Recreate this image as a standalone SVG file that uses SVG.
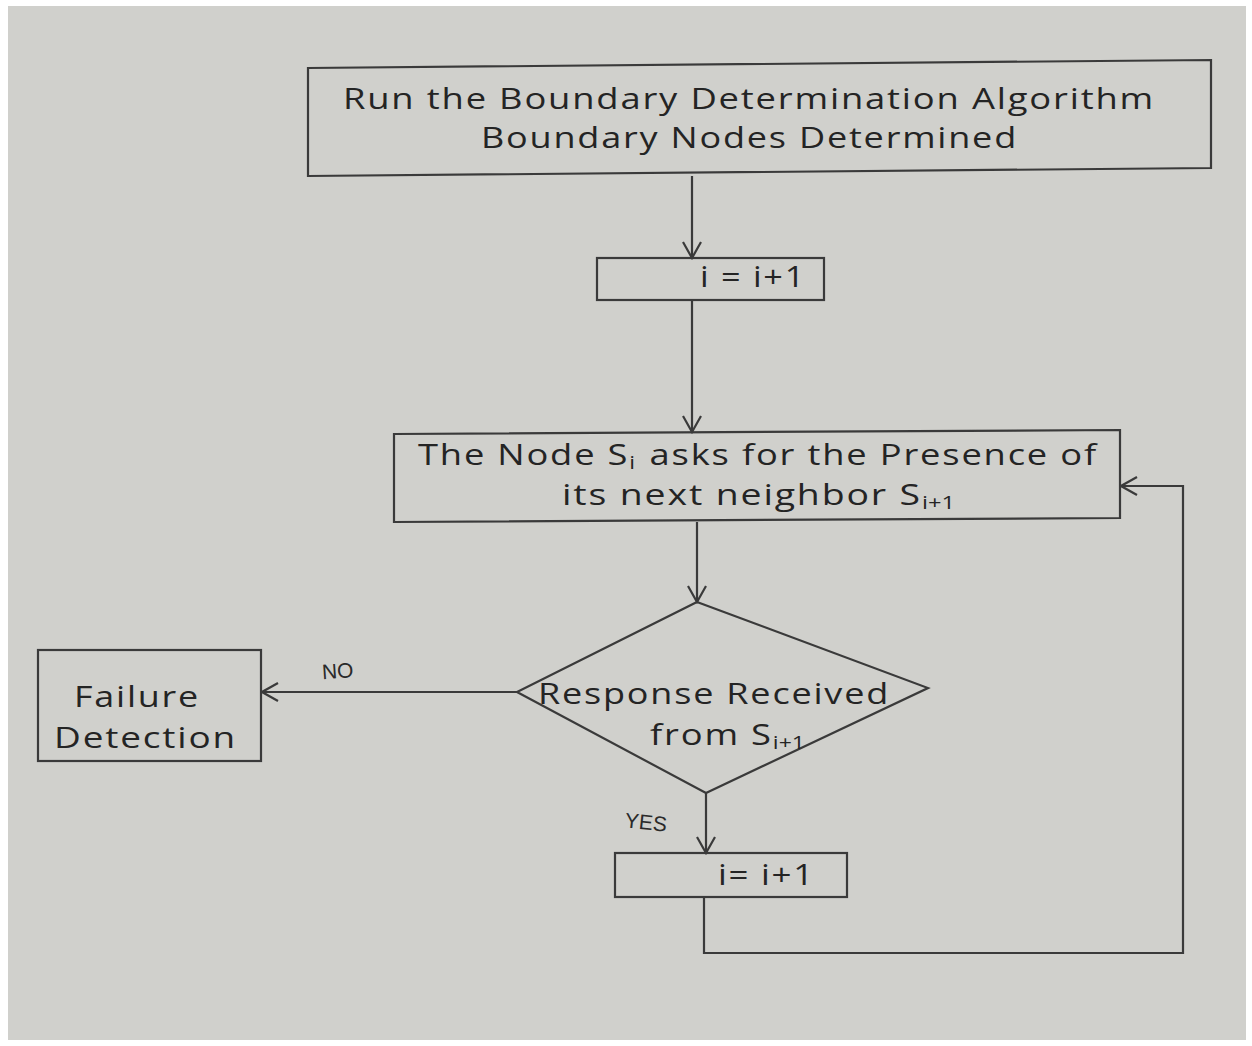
<svg xmlns="http://www.w3.org/2000/svg" width="1252" height="1046" viewBox="0 0 1252 1046">
<defs>
<style>
.bx{fill:none;stroke:#3a3a3a;stroke-width:2.2}
.ln{fill:none;stroke:#3a3a3a;stroke-width:2.2}
.t{font-family:"Open Sans","Liberation Sans",sans-serif;font-size:30px;fill:#242424;letter-spacing:1.5px}
.s{font-size:19px;letter-spacing:0}
.lb{font-family:"Liberation Sans",sans-serif;font-size:21px;fill:#2a2a2a}
</style>
<marker id="ah" viewBox="0 0 20 20" refX="18" refY="10" markerWidth="20" markerHeight="20" markerUnits="userSpaceOnUse" orient="auto">
<path d="M2,1 L18,10 L2,19" fill="none" stroke="#3a3a3a" stroke-width="2.2"/>
</marker>
</defs>
<rect x="0" y="0" width="1252" height="1046" fill="#ffffff"/>
<rect x="8" y="6" width="1238" height="1034" fill="#d0d0cc"/>
<g id="connectors">
<line class="ln" x1="692" y1="176" x2="692" y2="258" marker-end="url(#ah)"/>
<line class="ln" x1="692" y1="300" x2="692" y2="432" marker-end="url(#ah)"/>
<line class="ln" x1="697" y1="522" x2="697" y2="602" marker-end="url(#ah)"/>
<line class="ln" x1="517" y1="692" x2="262" y2="692" marker-end="url(#ah)"/>
<line class="ln" x1="706" y1="793" x2="706" y2="853" marker-end="url(#ah)"/>
<polyline class="ln" points="704,897 704,953 1183,953 1183,486 1121,486" marker-end="url(#ah)"/>
<text class="lb" x="322" y="678" transform="rotate(-4 340 672)">NO</text>
<text class="lb" x="625" y="830" transform="rotate(6 650 822)">YES</text>
</g>
<g id="node-start">
<polygon class="bx" points="308,68 1211,60 1211,168 308,176"/>
<text class="t" x="343" y="109" textLength="812" lengthAdjust="spacingAndGlyphs">Run the Boundary Determination Algorithm</text>
<text class="t" x="481" y="148" textLength="537" lengthAdjust="spacingAndGlyphs">Boundary Nodes Determined</text>
</g>
<g id="node-inc1">
<rect class="bx" x="597" y="258" width="227" height="42"/>
<text class="t" x="700" y="287" textLength="106" lengthAdjust="spacingAndGlyphs">i = i+1</text>
</g>
<g id="node-ask">
<polygon class="bx" points="394,434 1120,430 1120,518 394,522"/>
<text class="t" x="418" y="465" textLength="680" lengthAdjust="spacingAndGlyphs">The Node S<tspan class="s" dy="4">i</tspan><tspan dy="-4" dx="12">asks for the Presence of</tspan></text>
<text class="t" x="562" y="505" textLength="393" lengthAdjust="spacingAndGlyphs">its next neighbor  S<tspan class="s" dy="4">i+1</tspan></text>
</g>
<g id="node-decision">
<polygon class="bx" points="697,602 928,688 706,793 517,692"/>
<text class="t" x="538" y="704" textLength="352" lengthAdjust="spacingAndGlyphs">Response Received</text>
<text class="t" x="650" y="745" textLength="155" lengthAdjust="spacingAndGlyphs">from S<tspan class="s" dy="4">i+1</tspan></text>
</g>
<g id="node-failure">
<rect class="bx" x="38" y="650" width="223" height="111"/>
<text class="t" x="74" y="707" textLength="126" lengthAdjust="spacingAndGlyphs">Failure</text>
<text class="t" x="54" y="748" textLength="183" lengthAdjust="spacingAndGlyphs">Detection</text>
</g>
<g id="node-inc2">
<rect class="bx" x="615" y="853" width="232" height="44"/>
<text class="t" x="718" y="885" textLength="97" lengthAdjust="spacingAndGlyphs">i= i+1</text>
</g>
</svg>
